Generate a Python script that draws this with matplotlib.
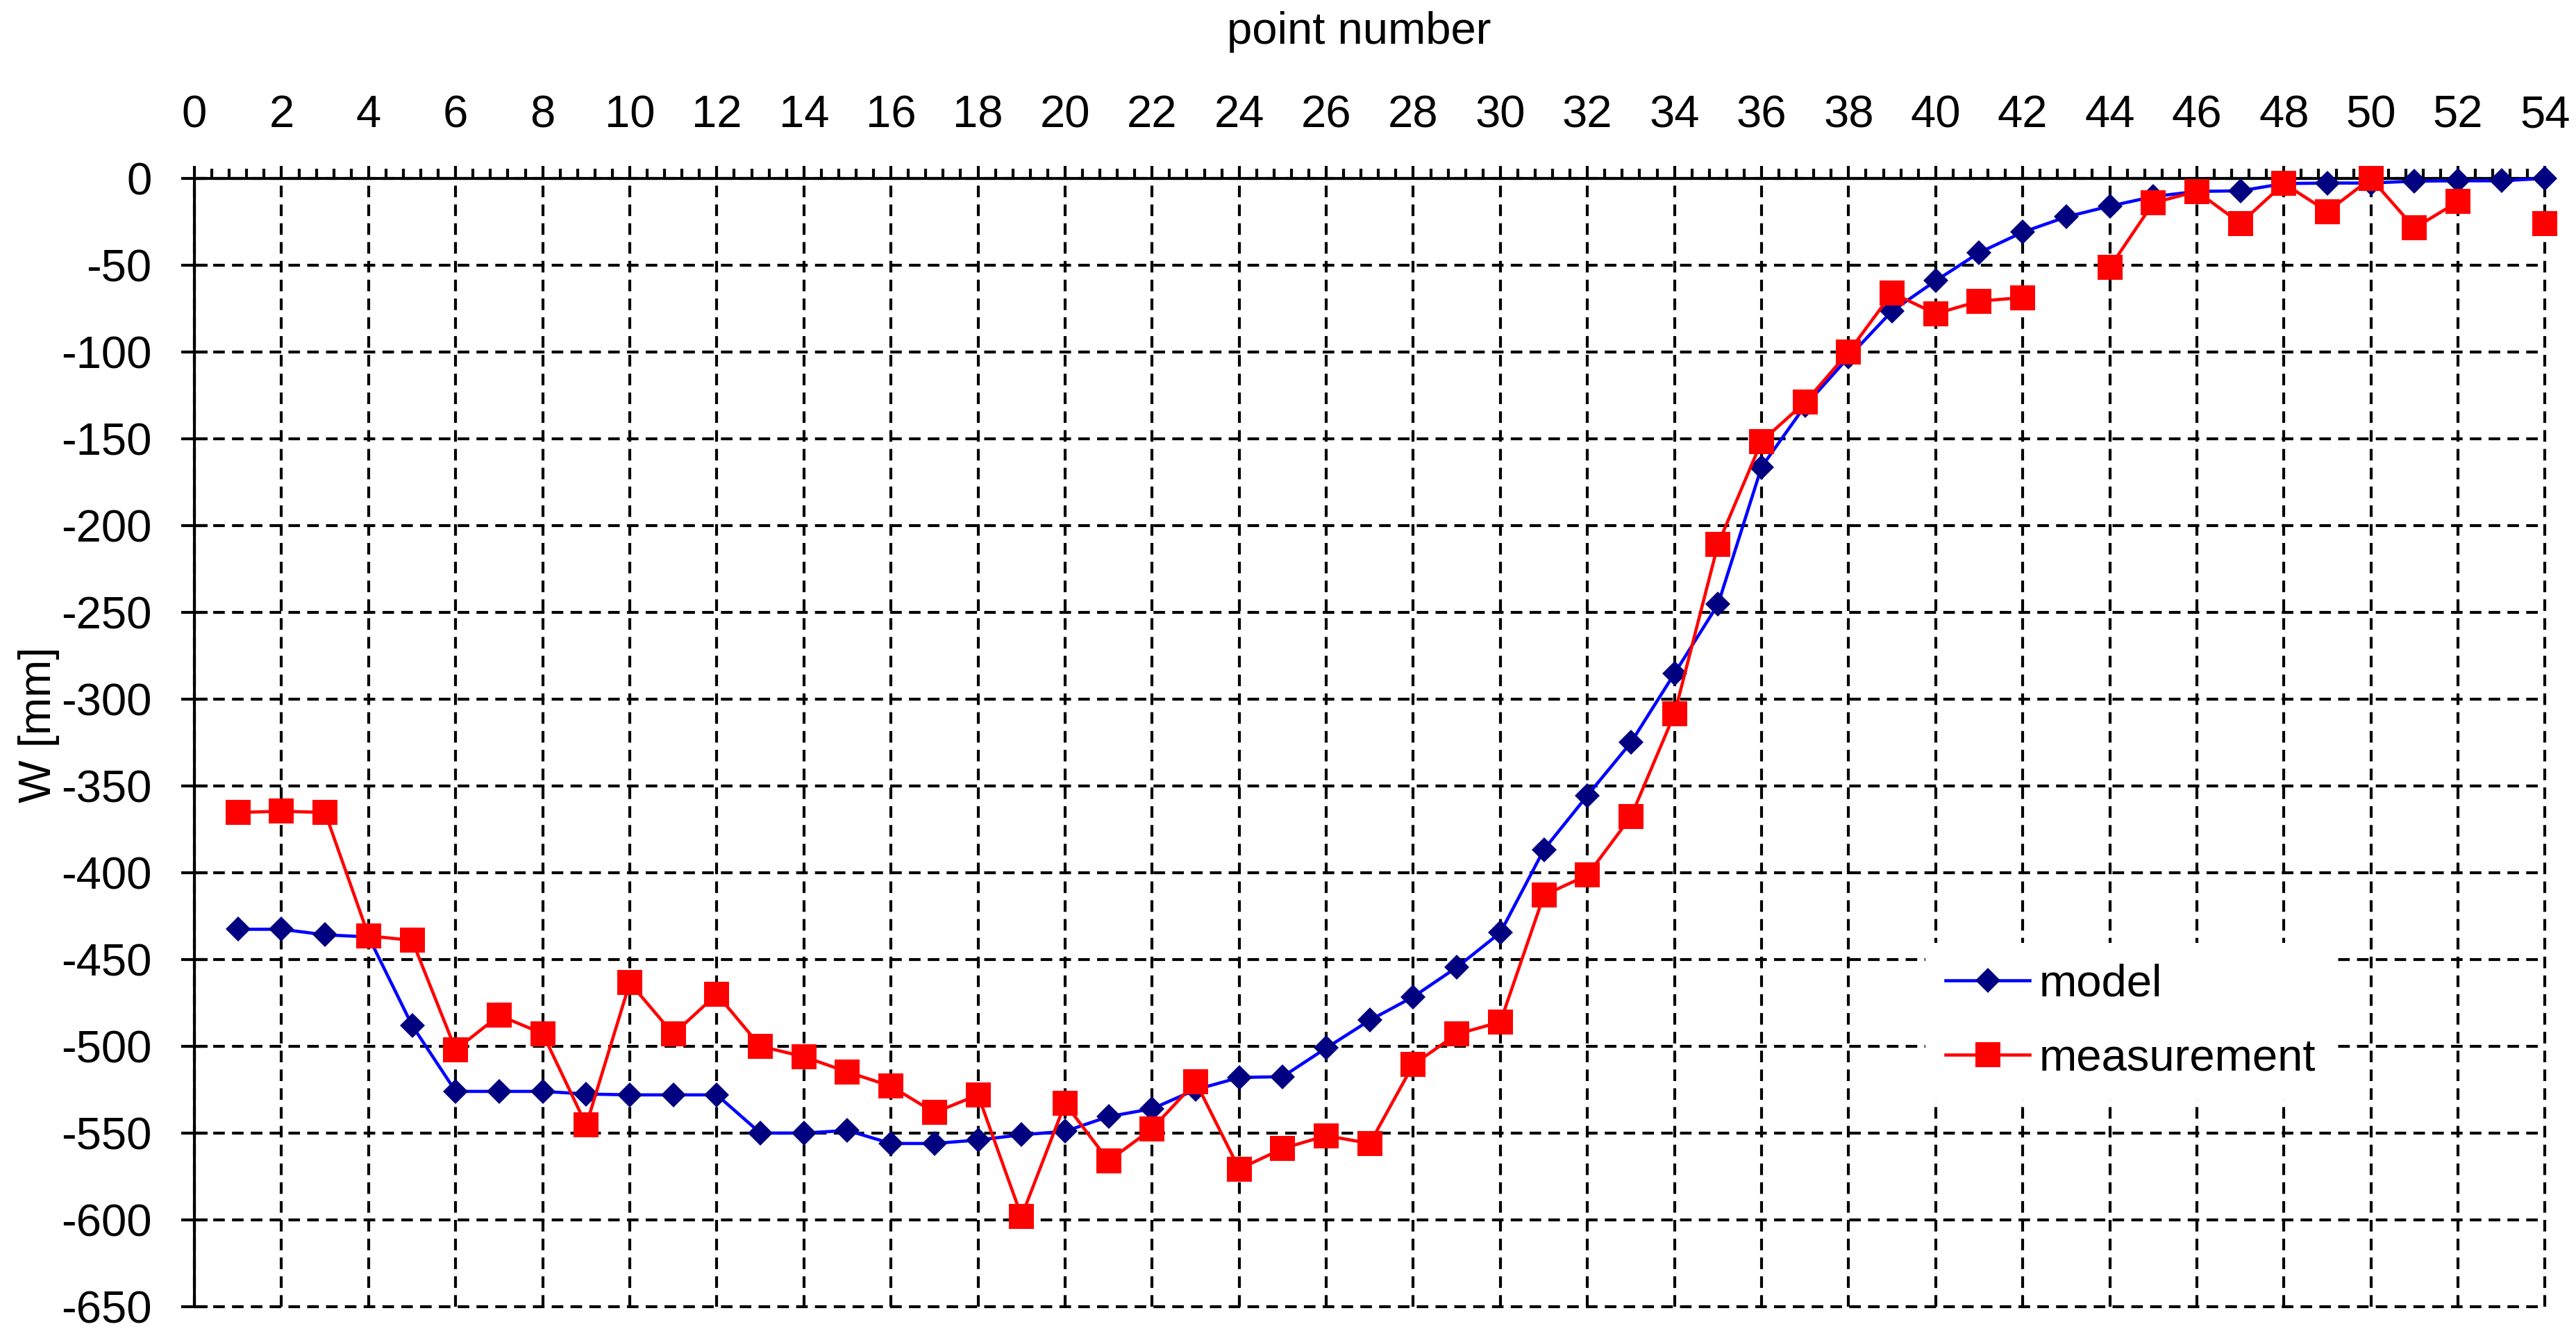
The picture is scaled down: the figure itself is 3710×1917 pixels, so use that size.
import numpy as np
import matplotlib
matplotlib.use("Agg")
import matplotlib.pyplot as plt
from matplotlib.ticker import MultipleLocator

plt.rcParams['font.family'] = ['Liberation Sans', 'DejaVu Sans']
plt.rcParams['axes.unicode_minus'] = False

# ---- data ----
points = list(range(1, 55))
model = [-432.6, -432.6, -435.8, -437.0, -488.0, -526.0, -526.0, -526.0, -527.5, -528.0,
         -528.0, -528.0, -550.0, -550.0, -548.5, -556.0, -556.0, -554.0, -551.0, -549.0,
         -540.5, -536.0, -525.0, -518.0, -517.5, -501.0, -485.0, -471.5, -454.5, -434.5,
         -386.7, -355.5, -325.0, -285.2, -245.4, -166.3, -131.0, -103.0, -76.4, -59.0,
         -42.8, -31.0, -22.2, -16.0, -10.5, -7.5, -7.2, -3.0, -2.7, -2.7,
         -1.6, -1.4, -1.4, 0.0]
measurement = [-365.3, -364.6, -365.3, -436.4, -439.0, -502.0, -482.2, -492.7, -545.4, -463.4,
               -493.0, -470.0, -500.0, -506.0, -514.8, -523.0, -538.2, -528.0, -598.0, -533.0,
               -566.0, -547.5, -520.5, -570.7, -558.9, -551.5, -556.0, -510.5, -493.0, -486.0,
               -413.0, -401.4, -367.7, -308.5, -210.8, -151.5, -129.0, -100.0, -66.0, -78.0,
               -70.7, -68.7, np.nan, -51.3, -14.1, -7.5, -25.9, -3.0, -19.1, 0.0,
               -28.6, -13.4, np.nan, -25.9]
series_labels = ["model", "measurement"]
x_label = "point number"
y_label = "W [mm]"

FS = 47
LW = 3.0

fig = plt.figure(figsize=(37.1, 19.17), dpi=100)
ax = fig.add_axes([0.0755, 0.0183, 0.9125, 0.8477])

l1, = ax.plot(points, model, color='#0000FF', lw=3.3, marker='D', ms=18.5,
              markerfacecolor='#000080', markeredgecolor='#000080', markeredgewidth=0,
              zorder=3, clip_on=False, label=series_labels[0])
l2, = ax.plot(points, measurement, color='#FF0000', lw=3.3, marker='s', ms=26,
              markerfacecolor='#FF0000', markeredgecolor='#FF0000', markeredgewidth=0,
              zorder=4, clip_on=False, label=series_labels[1])

ax.set_xlim(0, 54)
ax.set_ylim(-650, 0)
ax.set_xticks(range(0, 55, 2))
ax.xaxis.set_minor_locator(MultipleLocator(0.4))
ax.set_yticks(range(-650, 1, 50))

ax.xaxis.tick_top()
ax.xaxis.set_label_position('top')
ax.tick_params(axis='x', which='major', direction='out', length=12.7, width=LW,
               pad=31, labelsize=FS, top=True, bottom=False)
ax.tick_params(axis='x', which='minor', direction='out', length=10, width=LW,
               top=True, bottom=False)
ax.tick_params(axis='y', which='major', direction='inout', length=27, width=LW,
               pad=31, labelsize=FS)

for s in ['right', 'bottom']:
    ax.spines[s].set_visible(False)
for s in ['left', 'top']:
    ax.spines[s].set_linewidth(LW)
    ax.spines[s].set_color('black')

ax.grid(True, which='major', color='black', linestyle=(0, (4.0, 2.5)), linewidth=LW)
for gl in ax.get_xgridlines() + ax.get_ygridlines():
    gl.set_clip_on(False)

ax.set_xlabel(x_label, fontsize=FS)
ax.xaxis.set_label_coords(0.4953, 1.1194)
ax.set_ylabel(y_label, fontsize=FS)
ax.yaxis.set_label_coords(-0.0573, 0.5157)

leg = ax.legend(handles=[l1, l2], loc='upper left',
                bbox_to_anchor=(2773 / 3710, 1 - 1358 / 1917),
                bbox_transform=fig.transFigure, borderaxespad=0, borderpad=0.45,
                handlelength=1.85, handletextpad=0.2, labelspacing=0.72,
                fontsize=FS, frameon=True, fancybox=False, framealpha=1,
                facecolor='white', edgecolor='none', numpoints=1)

fig.savefig('out.png', dpi=100)
